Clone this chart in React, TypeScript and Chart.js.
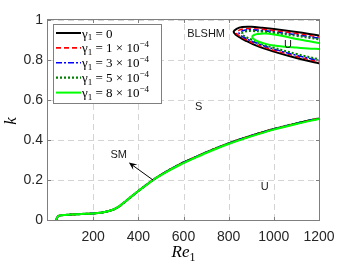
import React, { useEffect, useRef } from 'react';
import { Chart, registerables } from 'chart.js';

Chart.register(...registerables);

// ---------- data ----------
const xTickValues = [200, 400, 600, 800, 1000, 1200];
const yTickValues = [0, 0.2, 0.4, 0.6, 0.8, 1];

const legendLabels = [
  'γ_1 = 0',
  'γ_1 = 1 × 10^{−4}',
  'γ_1 = 3 × 10^{−4}',
  'γ_1 = 5 × 10^{−4}',
  'γ_1 = 8 × 10^{−4}',
];

// lower neutral curve (Re1, k)
const lowerRe = [37, 39, 42, 47, 55, 70, 100, 150, 200, 240, 270, 295, 320, 345, 370, 400, 430, 466, 520, 583, 650, 700, 800, 900, 1000, 1100, 1200];
const lowerK0 = [0, 0.008, 0.015, 0.02, 0.023, 0.025, 0.027, 0.03, 0.033, 0.038, 0.045, 0.055, 0.072, 0.095, 0.118, 0.145, 0.171, 0.201, 0.239, 0.278, 0.313, 0.338, 0.383, 0.421, 0.455, 0.483, 0.508];
const lowerK8 = [0, 0.008, 0.015, 0.02, 0.023, 0.025, 0.027, 0.03, 0.033, 0.038, 0.045, 0.055, 0.072, 0.095, 0.118, 0.145, 0.17, 0.2, 0.237, 0.275, 0.31, 0.335, 0.38, 0.418, 0.452, 0.48, 0.505];

// BLSHM closed loops (Re1, k)
const loopRe0 = [1250, 1200, 1100, 1000, 950, 900, 860, 835, 822, 830, 850, 870, 920, 1000, 1100, 1200, 1250];
const loopK0 = [0.915, 0.923, 0.94, 0.955, 0.961, 0.966, 0.965, 0.956, 0.942, 0.928, 0.913, 0.9, 0.873, 0.842, 0.81, 0.783, 0.771];
const loopRe1 = [1250, 1200, 1100, 1000, 950, 900, 865, 845, 834, 842, 860, 880, 920, 1000, 1100, 1200, 1250];
const loopK1 = [0.907, 0.915, 0.932, 0.947, 0.953, 0.957, 0.955, 0.948, 0.937, 0.925, 0.912, 0.9, 0.879, 0.849, 0.818, 0.791, 0.779];
const loopRe3 = [1250, 1200, 1100, 1000, 950, 900, 870, 855, 846, 853, 870, 890, 920, 1000, 1100, 1200, 1250];
const loopK3 = [0.901, 0.909, 0.926, 0.941, 0.947, 0.951, 0.949, 0.943, 0.934, 0.924, 0.912, 0.9, 0.886, 0.855, 0.824, 0.797, 0.785];
const loopRe5 = [1250, 1200, 1100, 1000, 950, 905, 880, 866, 858, 865, 880, 900, 930, 1000, 1100, 1200, 1250];
const loopK5 = [0.896, 0.904, 0.921, 0.936, 0.942, 0.945, 0.944, 0.939, 0.931, 0.922, 0.912, 0.902, 0.887, 0.861, 0.83, 0.803, 0.791];
const loopRe8 = [1250, 1200, 1150, 1100, 1050, 1000, 960, 930, 912, 904, 912, 930, 960, 1000, 1050, 1100, 1150, 1200, 1250];
const loopK8 = [0.872, 0.885, 0.895, 0.905, 0.918, 0.928, 0.932, 0.93, 0.925, 0.915, 0.904, 0.893, 0.882, 0.872, 0.866, 0.862, 0.858, 0.855, 0.852];

// text notes (data coordinates)
const noteTexts = ['BLSHM', 'U', 'S', 'SM', 'U'];
const noteRe = [700, 1063, 667, 313, 960];
const noteK = [0.93, 0.875, 0.567, 0.325, 0.167];
const arrowRe = [465, 358];
const arrowK = [0.2, 0.287];

// ---------- styles ----------
const seriesStyles = [
  { color: '#000000', dash: [] as number[], width: 2 },
  { color: '#ff0000', dash: [5, 3], width: 1.6 },
  { color: '#0000ff', dash: [6, 2, 2, 2], width: 1.6 },
  { color: '#008000', dash: [2, 2], width: 2.2 },
  { color: '#00ff00', dash: [] as number[], width: 2 },
];

const loopRes = [loopRe0, loopRe1, loopRe3, loopRe5, loopRe8];
const loopKs = [loopK0, loopK1, loopK3, loopK5, loopK8];
const lowerKs = [lowerK0, lowerK0, lowerK0, lowerK0, lowerK8];

const SERIF = '"Liberation Serif", "DejaVu Serif", serif';
const SANS = '"Liberation Sans", Arial, sans-serif';

type Seg = { t: string; m: number };
function parseRich(s: string): Seg[] {
  const segs: Seg[] = [];
  let i = 0;
  let buf = '';
  while (i < s.length) {
    const c = s[i];
    if (c === '_' || c === '^') {
      if (buf) { segs.push({ t: buf, m: 0 }); buf = ''; }
      let t: string;
      if (s[i + 1] === '{') {
        const j = s.indexOf('}', i + 2);
        t = s.slice(i + 2, j);
        i = j + 1;
      } else {
        t = s[i + 1];
        i += 2;
      }
      segs.push({ t, m: c === '_' ? 1 : -1 });
    } else {
      buf += c;
      i++;
    }
  }
  if (buf) segs.push({ t: buf, m: 0 });
  return segs;
}

function drawRich(ctx: CanvasRenderingContext2D, s: string, x: number, y: number, size: number, family: string, style = '', measureOnly = false) {
  const segs = parseRich(s);
  let cx = x;
  for (const seg of segs) {
    const fs = seg.m === 0 ? size : size * 0.7;
    ctx.font = `${seg.m === 0 ? style : ''} ${fs}px ${family}`;
    const dy = seg.m === 1 ? size * 0.22 : seg.m === -1 ? -size * 0.42 : 0;
    if (!measureOnly) ctx.fillText(seg.t, cx, y + dy);
    cx += ctx.measureText(seg.t).width;
  }
  return cx - x;
}

const gridPlugin = {
  id: 'dashGrid',
  beforeDatasetsDraw(chart: any) {
    const ctx: CanvasRenderingContext2D = chart.ctx;
    const { left, right, top, bottom } = chart.chartArea;
    const xs = chart.scales.x;
    const ys = chart.scales.y;
    ctx.save();
    ctx.strokeStyle = '#d4d4d4';
    ctx.lineWidth = 1;
    ctx.setLineDash([6, 4]);
    ctx.beginPath();
    xTickValues.forEach((v) => {
      const px = Math.round(xs.getPixelForValue(v)) + 0.5;
      ctx.moveTo(px, bottom);
      ctx.lineTo(px, top);
    });
    yTickValues.forEach((v) => {
      const py = Math.round(ys.getPixelForValue(v)) + 0.5;
      ctx.moveTo(left, py);
      ctx.lineTo(right, py);
    });
    ctx.stroke();
    ctx.restore();
  },
};

const overlayPlugin = {
  id: 'overlay',
  afterDatasetsDraw(chart: any) {
    const ctx: CanvasRenderingContext2D = chart.ctx;
    const { left, right, top, bottom } = chart.chartArea;
    const xs = chart.scales.x;
    const ys = chart.scales.y;
    ctx.save();

    // notes
    ctx.fillStyle = '#1a1a1a';
    ctx.font = `11px ${SANS}`;
    ctx.textAlign = 'center';
    ctx.textBaseline = 'middle';
    noteTexts.forEach((t, i) => {
      ctx.fillText(t, xs.getPixelForValue(noteRe[i]), ys.getPixelForValue(noteK[i]));
    });

    // arrow
    const x0 = xs.getPixelForValue(arrowRe[0]);
    const y0 = ys.getPixelForValue(arrowK[0]);
    const x1 = xs.getPixelForValue(arrowRe[1]);
    const y1 = ys.getPixelForValue(arrowK[1]);
    const ang = Math.atan2(y1 - y0, x1 - x0);
    ctx.strokeStyle = '#000';
    ctx.fillStyle = '#000';
    ctx.lineWidth = 1;
    ctx.beginPath();
    ctx.moveTo(x0, y0);
    ctx.lineTo(x1 - Math.cos(ang) * 4, y1 - Math.sin(ang) * 4);
    ctx.stroke();
    const hl = 8, hw = 3.5;
    ctx.beginPath();
    ctx.moveTo(x1, y1);
    ctx.lineTo(x1 - hl * Math.cos(ang) + hw * Math.sin(ang), y1 - hl * Math.sin(ang) - hw * Math.cos(ang));
    ctx.lineTo(x1 - hl * 0.6 * Math.cos(ang), y1 - hl * 0.6 * Math.sin(ang));
    ctx.lineTo(x1 - hl * Math.cos(ang) - hw * Math.sin(ang), y1 - hl * Math.sin(ang) + hw * Math.cos(ang));
    ctx.closePath();
    ctx.fill();

    // box + inner ticks
    ctx.strokeStyle = '#7f7f7f';
    ctx.lineWidth = 1;
    ctx.setLineDash([]);
    ctx.strokeRect(Math.round(left) - 0.5, Math.round(top) - 0.5, Math.round(right - left) + 1, Math.round(bottom - top) + 1);
    ctx.beginPath();
    xTickValues.forEach((v) => {
      const px = Math.round(xs.getPixelForValue(v)) + 0.5;
      ctx.moveTo(px, bottom); ctx.lineTo(px, bottom - 3);
      ctx.moveTo(px, top); ctx.lineTo(px, top + 3);
    });
    yTickValues.forEach((v) => {
      const py = Math.round(ys.getPixelForValue(v)) + 0.5;
      ctx.moveTo(left, py); ctx.lineTo(left + 3, py);
      ctx.moveTo(right, py); ctx.lineTo(right - 3, py);
    });
    ctx.stroke();

    // legend
    const lx = left + 5;
    const ly = top + 4;
    const lw = 108;
    const lh = 79;
    ctx.fillStyle = '#ffffff';
    ctx.fillRect(lx, ly, lw, lh);
    ctx.strokeStyle = '#7f7f7f';
    ctx.strokeRect(Math.round(lx) + 0.5, Math.round(ly) + 0.5, lw, lh);
    legendLabels.forEach((lab, i) => {
      const ry = ly + 9 + i * 14.9;
      const st = seriesStyles[i];
      ctx.strokeStyle = st.color;
      ctx.lineWidth = st.width;
      ctx.setLineDash(st.dash);
      ctx.beginPath();
      ctx.moveTo(lx + 3, ry);
      ctx.lineTo(lx + 28, ry);
      ctx.stroke();
      ctx.setLineDash([]);
      ctx.fillStyle = '#000';
      ctx.textAlign = 'left';
      ctx.textBaseline = 'alphabetic';
      drawRich(ctx, lab, lx + 29, ry + 4.5, 13, SERIF);
    });

    // axis titles
    ctx.fillStyle = '#000';
    ctx.textAlign = 'left';
    ctx.textBaseline = 'alphabetic';
    const xt = 'Re_1';
    const w = drawRich(ctx, xt, 0, 0, 17, SERIF, 'italic', true);
    drawRich(ctx, xt, (left + right) / 2 - w / 2, 257, 17, SERIF, 'italic');
    ctx.save();
    ctx.translate(16, (top + bottom) / 2 + 1);
    ctx.rotate(-Math.PI / 2);
    const wk = drawRich(ctx, 'k', 0, 0, 17, SERIF, 'italic', true);
    drawRich(ctx, 'k', -wk / 2, 0, 17, SERIF, 'italic');
    ctx.restore();

    ctx.restore();
  },
};

export default function App() {
  const ref = useRef<HTMLCanvasElement | null>(null);

  useEffect(() => {
    if (!ref.current) return;
    const datasets: any[] = [];
    seriesStyles.forEach((st, i) => {
      datasets.push({
        label: legendLabels[i],
        data: lowerRe.map((x, j) => ({ x, y: lowerKs[i][j] })),
        borderColor: st.color,
        borderWidth: st.width,
        borderDash: st.dash,
        pointRadius: 0,
        fill: false,
        cubicInterpolationMode: 'monotone',
        order: 4 - i,
        clip: 0,
      });
      datasets.push({
        label: legendLabels[i] + ' loop',
        data: loopRes[i].map((x, j) => ({ x, y: loopKs[i][j] })),
        borderColor: st.color,
        borderWidth: st.width,
        borderDash: st.dash,
        pointRadius: 0,
        fill: false,
        tension: 0.4,
        order: 4 - i,
        clip: 0,
      });
    });

    const tickFont = { family: SANS, size: 14 };
    const chart = new Chart(ref.current, {
      type: 'line',
      data: { datasets },
      plugins: [gridPlugin, overlayPlugin],
      options: {
        animation: false,
        responsive: true,
        maintainAspectRatio: false,
        layout: { padding: { left: 0, right: 34, top: 20, bottom: 0 } },
        plugins: { legend: { display: false }, tooltip: { enabled: false } },
        scales: {
          x: {
            type: 'linear',
            min: 0,
            max: 1200,
            afterBuildTicks: (scale: any) => {
              scale.ticks = xTickValues.map((v) => ({ value: v }));
            },
            afterFit: (scale: any) => { scale.height = 45; },
            grid: { display: false, drawTicks: false },
            border: { display: false },
            ticks: {
              font: tickFont, color: '#262626', padding: 9, maxRotation: 0, autoSkip: false,
              callback: (v: any) => String(v),
            },
          },
          y: {
            type: 'linear',
            min: 0,
            max: 1,
            afterBuildTicks: (scale: any) => {
              scale.ticks = yTickValues.map((v) => ({ value: v }));
            },
            afterFit: (scale: any) => { scale.width = 48; },
            grid: { display: false, drawTicks: false },
            border: { display: false },
            ticks: {
              font: tickFont, color: '#262626', padding: 5, autoSkip: false,
              callback: (v: any) => String(Math.round(Number(v) * 10) / 10),
            },
          },
        },
      } as any,
    });
    return () => chart.destroy();
  }, []);

  return (
    <div style={{ position: 'fixed', left: 0, top: 0, width: 353, height: 265, background: '#fff' }}>
      <canvas ref={ref} />
    </div>
  );
}
